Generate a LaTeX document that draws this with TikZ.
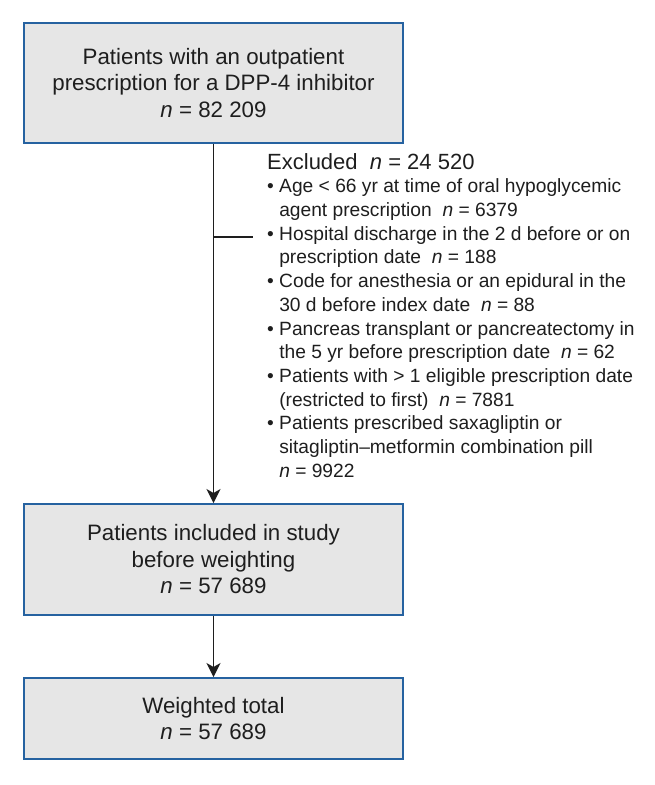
\documentclass[tikz,border=0pt]{standalone}
\usepackage{fontspec}
\setmainfont{Liberation Sans}
\usetikzlibrary{arrows.meta,positioning}

\definecolor{boxblue}{RGB}{38,98,160}
\definecolor{boxfill}{RGB}{230,230,230}
\definecolor{inktext}{RGB}{30,30,30}

\tikzset{
  flowbox/.style={draw=boxblue, line width=2pt, fill=boxfill, text=inktext,
    minimum width=379pt, align=center, inner sep=0pt,
    font=\fontsize{22.3}{26.5}\selectfont},
  excltext/.style={align=left, text=inktext, inner sep=0pt,
    font=\fontsize{19.2}{23.7}\selectfont},
  flowline/.style={draw=inktext, line width=1.3pt},
  flowarrow/.style={flowline, -{Stealth[length=14pt,width=14pt,inset=4pt]}}
}

\newcommand{\nn}{\textit{n}}
\newcommand{\hang}{\phantom{\textbullet\ }}

\begin{document}
\begin{tikzpicture}[x=1pt,y=-1pt]
    \useasboundingbox (0,0) rectangle (655,785);

    % Boxes
    \node[flowbox, minimum height=120pt] (start) at (213.5,83)
        {Patients with an outpatient\\ prescription for a DPP-4 inhibitor\\ \nn{} = 82 209};
    \node[flowbox, minimum height=111pt] (incl) at (213.5,559.5)
        {Patients included in study\\ before weighting\\ \nn{} = 57 689};
    \node[flowbox, minimum height=81pt] (weighted) at (213.5,718.5)
        {Weighted total\\ \nn{} = 57 689};

    % Exclusions
    \node[excltext, anchor=north west] (excl) at (267,153)
        {{\fontsize{22}{24}\selectfont Excluded\ \ \nn{} = 24 520}\\
         \textbullet\ Age < 66 yr at time of oral hypoglycemic\\
         \hang agent prescription\ \ \nn{} = 6379\\
         \textbullet\ Hospital discharge in the 2 d before or on\\
         \hang prescription date\ \ \nn{} = 188\\
         \textbullet\ Code for anesthesia or an epidural in the\\
         \hang 30 d before index date\ \ \nn{} = 88\\
         \textbullet\ Pancreas transplant or pancreatectomy in\\
         \hang the 5 yr before prescription date\ \ \nn{} = 62\\
         \textbullet\ Patients with > 1 eligible prescription date\\
         \hang (restricted to first)\ \ \nn{} = 7881\\
         \textbullet\ Patients prescribed saxagliptin or\\
         \hang sitagliptin--metformin combination pill\\
         \hang \nn{} = 9922};
    \coordinate (branch) at (253,237);

    % Connectors
    \draw[flowarrow] (start) -- (incl);
    \draw[flowline] (start.south |- branch) -- (branch);
    \draw[flowarrow] (incl) -- (weighted);
\end{tikzpicture}
\end{document}
